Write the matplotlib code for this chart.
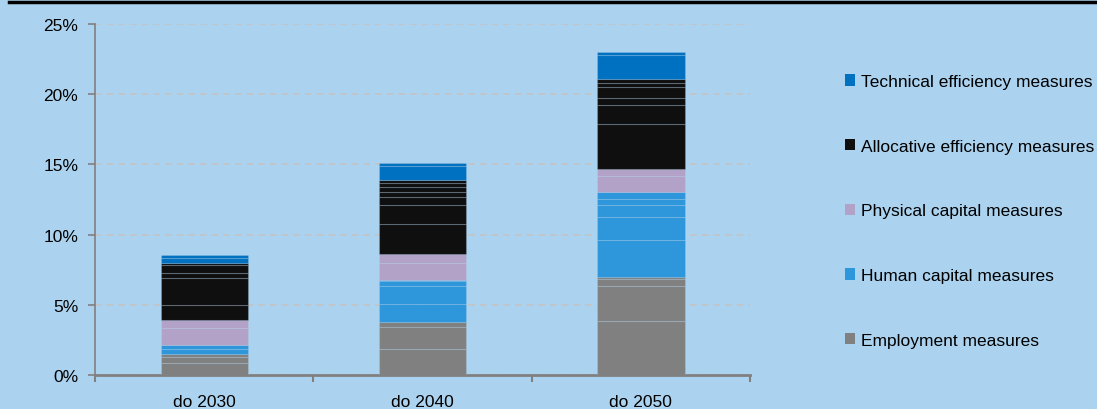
import matplotlib
matplotlib.use("Agg")
import matplotlib.pyplot as plt
from matplotlib.lines import Line2D
from matplotlib.patches import Patch

plt.rcParams["font.family"] = ["Liberation Sans", "DejaVu Sans"]

BG = "#ABD3F0"

categories = ["do 2030", "do 2040", "do 2050"]

# each series: individual measures stacked inside the bar, per year (in %)
employment = [[0.85, 0.40, 0.25], [1.85, 1.60, 0.30], [3.85, 2.50, 0.50, 0.15]]
human_capital = [[0.35, 0.30], [1.30, 1.30, 0.35, 0.10], [2.65, 1.60, 0.85, 0.45, 0.45]]
physical_capital = [[1.20, 0.60], [1.15, 0.70], [1.15, 0.50]]
allocative = [[1.05, 1.90, 0.35, 0.60, 0.10],
              [2.10, 1.35, 0.60, 0.35, 0.35, 0.25, 0.25],
              [3.20, 1.35, 0.50, 0.80, 0.30, 0.30]]
technical = [[0.35, 0.25], [1.00, 0.20], [1.70, 0.20]]

series_names = ["Employment measures", "Human capital measures",
                "Physical capital measures", "Allocative efficiency measures",
                "Technical efficiency measures"]
series_data = [employment, human_capital, physical_capital, allocative, technical]
series_colors = ["#808080", "#2E96DA", "#B3A2C7", "#0F0F0F", "#0070C0"]

yticks = [0, 5, 10, 15, 20, 25]

fig = plt.figure(figsize=(10.97, 4.10), dpi=100, facecolor=BG)
ax = fig.add_axes([0.0866, 0.0829, 0.5971, 0.8561], facecolor=BG)

for i in range(len(categories)):
    bottom = 0.0
    for data, color in zip(series_data, series_colors):
        for v in data[i]:
            ax.bar(i, v, bottom=bottom, width=0.4, color=color,
                   edgecolor=(0.75, 0.85, 0.95, 0.22), linewidth=0.8, zorder=3)
            bottom += v

ax.set_xlim(-0.5, 2.5)
ax.set_ylim(0, 25)
ax.set_yticks(yticks)
ax.set_yticklabels([f"{t}%" for t in yticks], fontsize=12.5)
ax.set_xticks(range(len(categories)))
ax.set_xticklabels(categories, fontsize=12.5)
ax.tick_params(axis="x", length=0, pad=14)
ax.set_xticks([-0.5, 0.5, 1.5, 2.5], minor=True)
ax.tick_params(axis="x", which="minor", length=5, color="#808080", width=1.5)
ax.tick_params(axis="y", length=5, color="#808080", width=1.2, pad=7)

ax.grid(axis="y", color="#C4C4C4", linestyle=(0, (4, 3)), linewidth=1.2, zorder=0)
for s in ["top", "right"]:
    ax.spines[s].set_visible(False)
ax.spines["left"].set_color("#808080")
ax.spines["left"].set_linewidth(1.2)
ax.spines["bottom"].set_color("#808080")
ax.spines["bottom"].set_linewidth(2.0)

handles = [Patch(facecolor=c, edgecolor="none") for c in series_colors][::-1]
fig.legend(handles, series_names[::-1], loc="upper left",
           bbox_to_anchor=(0.762, 0.838), frameon=False, fontsize=12.5,
           handlelength=0.62, handleheight=0.62, handletextpad=0.3,
           labelspacing=2.86, borderpad=0)

fig.add_artist(Line2D([0.008, 1.0], [0.9915, 0.9915], color="black", lw=2.5))

fig.savefig("out.png", dpi=100, facecolor=BG)
